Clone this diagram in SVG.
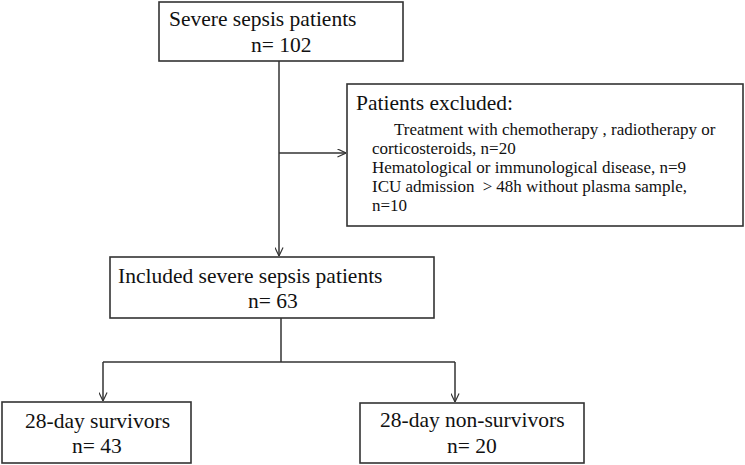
<svg xmlns="http://www.w3.org/2000/svg" width="745" height="465" viewBox="0 0 745 465">
<defs>
<style>
.box{fill:#fff;stroke:#333;stroke-width:1.6}
.big{font-family:"Liberation Serif","Times New Roman",serif;font-size:21.5px;fill:#111}
.small{font-family:"Liberation Serif","Times New Roman",serif;font-size:17px;fill:#111}
.ln{fill:none;stroke:#333;stroke-width:1.5}
</style>
<marker id="arr" viewBox="0 0 10 10" refX="9.5" refY="5" markerWidth="9" markerHeight="9" markerUnits="userSpaceOnUse" orient="auto">
<path d="M0,0.5 L9.5,5 L0,9.5" fill="none" stroke="#333" stroke-width="1.3"/>
</marker>
</defs>
<rect width="745" height="465" fill="#fff"/>
<g id="connectors">
<path class="ln" d="M279,61 V256" marker-end="url(#arr)"/>
<path class="ln" d="M279,153 H346" marker-end="url(#arr)"/>
<path class="ln" d="M281,318 V362"/>
<path class="ln" d="M103,362 H455"/>
<path class="ln" d="M103,362 V401" marker-end="url(#arr)"/>
<path class="ln" d="M455,362 V402" marker-end="url(#arr)"/>
</g>
<g id="n1">
<rect class="box" x="159" y="2" width="244" height="59"/>
<text class="big" x="169" y="26">Severe sepsis patients</text>
<text class="big" x="251" y="52">n= 102</text>
</g>
<g id="excluded">
<rect class="box" x="347" y="84" width="396" height="142"/>
<text class="big" x="356" y="110">Patients excluded:</text>
<text class="small" x="394" y="135">Treatment with chemotherapy , radiotherapy or</text>
<text class="small" x="372" y="154">corticosteroids, n=20</text>
<text class="small" x="372" y="173">Hematological or immunological disease, n=9</text>
<text class="small" x="372" y="192">ICU admission <tspan dx="4">&gt;</tspan><tspan dx="4">48h without plasma sample,</tspan></text>
<text class="small" x="372" y="211">n=10</text>
</g>
<g id="n2">
<rect class="box" x="110" y="257" width="324" height="61"/>
<text class="big" x="118" y="283">Included severe sepsis patients</text>
<text class="big" x="248" y="308">n= 63</text>
</g>
<g id="n3">
<rect class="box" x="2" y="402" width="189" height="61"/>
<text class="big" x="25" y="428">28-day survivors</text>
<text class="big" x="72" y="453">n= 43</text>
</g>
<g id="n4">
<rect class="box" x="360" y="403" width="224" height="60"/>
<text class="big" x="380" y="427">28-day non-survivors</text>
<text class="big" x="447" y="453">n= 20</text>
</g>
</svg>
